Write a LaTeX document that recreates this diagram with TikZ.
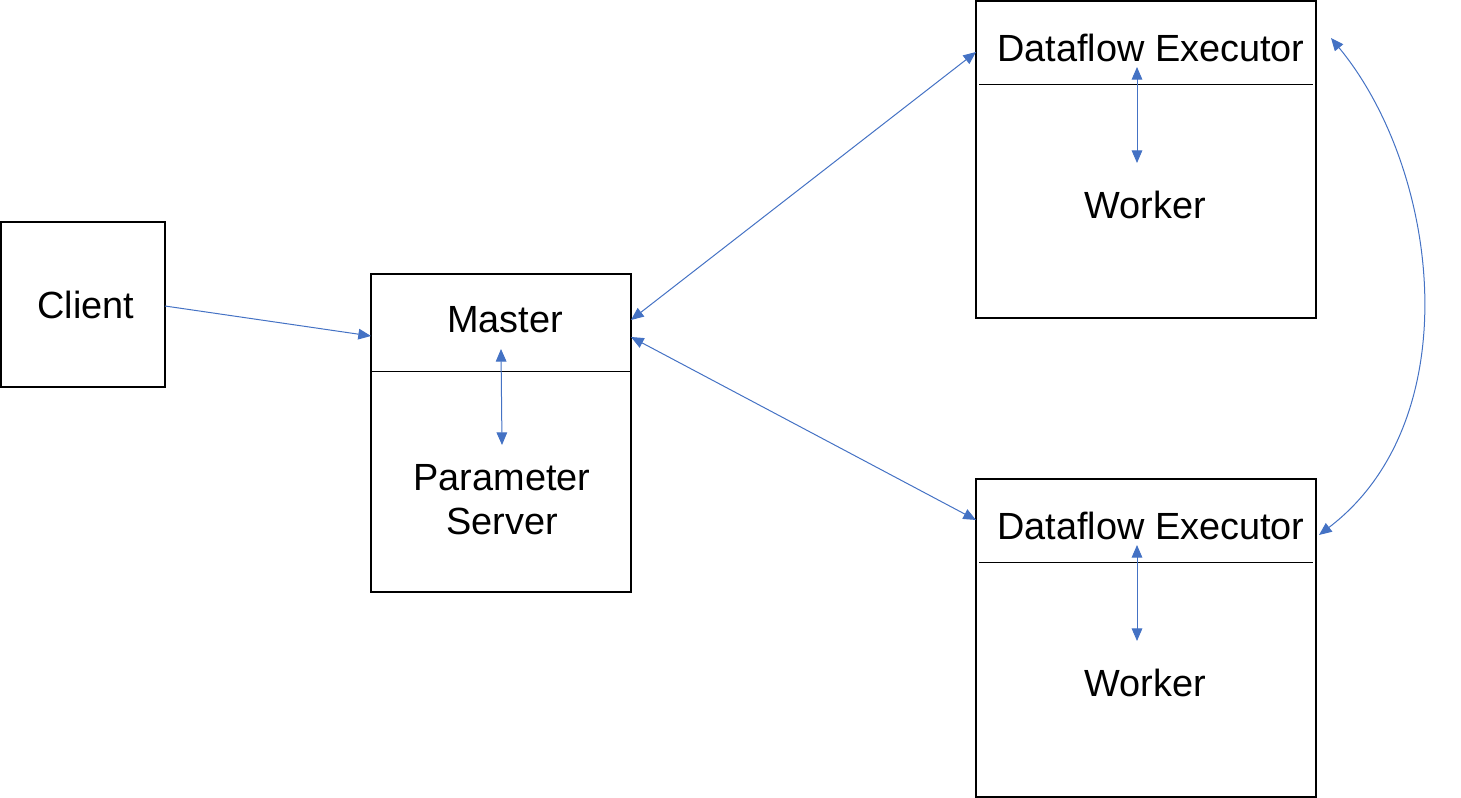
\documentclass[tikz,border=0pt]{standalone}
\usepackage{fontspec}
\setmainfont{Liberation Sans}
\usetikzlibrary{arrows.meta}
\definecolor{arrowblue}{HTML}{4472C4}
\begin{document}
\begin{tikzpicture}[x=0.75pt,y=-0.75pt,
  box/.style={draw=black,line width=1.5pt,inner sep=0pt},
  lbl/.style={font=\fontsize{28.4}{33}\selectfont,inner sep=0pt,align=center},
  divider/.style={draw=black,line width=0.75pt},
  onearrow/.style={draw=arrowblue,line width=0.75pt,-{Triangle[length=9.5pt,width=8pt]}},
  twoarrow/.style={draw=arrowblue,line width=0.75pt,{Triangle[length=9.5pt,width=8pt]}-{Triangle[length=9.5pt,width=8pt]}}]
\useasboundingbox (0,0) rectangle (1461,798);
% boxes
\node[box,minimum width=123pt,minimum height=123.75pt] (client) at (83,304.5) {};
\node[box,minimum width=195pt,minimum height=238.5pt] (master) at (501,433) {};
\node[box,minimum width=255pt,minimum height=237.75pt] (exec1) at (1146,159.5) {};
\node[box,minimum width=255pt,minimum height=238.5pt] (exec2) at (1146,638) {};
% dividers
\draw[divider] (371,372) -- (631,372);
\draw[divider] (979,85) -- (1313,85);
\draw[divider] (979,563) -- (1313,563);
% labels
\node[lbl] (clabel) at (86,305) {Client};
\node[lbl] (mlabel) at (505,320) {Master};
\node[lbl] (pslabel) at (502,500) {Parameter\\Server};
\node[lbl] (d1label) at (1151,48) {Dataflow Executor};
\node[lbl] (w1label) at (1145,205) {Worker};
\node[lbl] (d2label) at (1151,526) {Dataflow Executor};
\node[lbl] (w2label) at (1145,683) {Worker};
% connector points
\coordinate (cout) at (165,306);
\coordinate (min) at (371,336);
\coordinate (mtop) at (501,349);
\coordinate (mbot) at (502,445);
\coordinate (mr1) at (631,320);
\coordinate (mr2) at (631,337);
\coordinate (e1in) at (976,52);
\coordinate (e2in) at (976,520);
\coordinate (e1top) at (1137,67);
\coordinate (e1bot) at (1137,163);
\coordinate (e2top) at (1137,545);
\coordinate (e2bot) at (1137,641);
\coordinate (e1side) at (1331,38);
\coordinate (e2side) at (1319,535);
% connectors
\draw[onearrow] (cout) -- (min);
\draw[twoarrow] (mtop) -- (mbot);
\draw[twoarrow] (mr1) -- (e1in);
\draw[twoarrow] (mr2) -- (e2in);
\draw[twoarrow] (e1top) -- (e1bot);
\draw[twoarrow] (e2top) -- (e2bot);
\draw[twoarrow] (e1side) .. controls (1440,170) and (1470,420) .. (e2side);
\end{tikzpicture}
\end{document}
